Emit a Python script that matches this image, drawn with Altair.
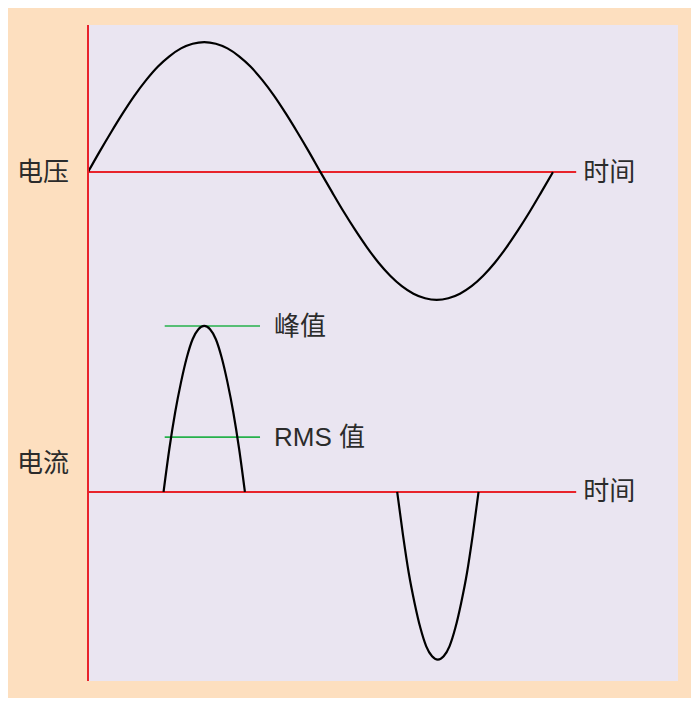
import altair as alt
import pandas as pd

# ---------------- data ----------------
# time in ms (one 50 Hz mains period = 20 ms)
V_TIME = [0.0, 0.5, 1.0, 1.5, 2.0, 2.5, 3.0, 3.5, 4.0, 4.5, 5.0, 5.5, 6.0, 6.5, 7.0,
          7.5, 8.0, 8.5, 9.0, 9.5, 10.0, 10.5, 11.0, 11.5, 12.0, 12.5, 13.0, 13.5,
          14.0, 14.5, 15.0, 15.5, 16.0, 16.5, 17.0, 17.5, 18.0, 18.5, 19.0, 19.5, 20.0]
# mains voltage in V
V_VOLT = [0, 49, 96, 141, 183, 220, 252, 277, 296, 307, 311, 307, 296, 277, 252,
          220, 183, 141, 96, 49, 0, -48, -95, -139, -180, -217, -248, -273,
          -291, -302, -306, -302, -291, -273, -248, -217, -180, -139, -95, -48, 0]

# current pulses (relative to peak current)
I_TIME_POS = [3.25, 3.5, 3.75, 4.0, 4.25, 4.5, 4.75, 5.0, 5.25, 5.5, 5.75, 6.0, 6.25, 6.5, 6.75]
I_VAL_POS = [0, 0.26, 0.48, 0.66, 0.81, 0.92, 0.98, 1.0, 0.98, 0.92, 0.81, 0.66, 0.48, 0.26, 0]
I_TIME_NEG = [13.3, 13.55, 13.8, 14.05, 14.3, 14.55, 14.8, 15.05, 15.3, 15.55, 15.8, 16.05, 16.3, 16.55, 16.8]
I_VAL_NEG = [0, -0.26, -0.49, -0.67, -0.82, -0.93, -0.99, -1.01, -0.99, -0.93, -0.82, -0.67, -0.49, -0.26, 0]

PEAK_I = 1.0
RMS_I = 0.33
MARK_START, MARK_END = 3.3, 7.4     # extent of the green marker lines (ms)
T_AXIS_END = 21.0                   # end of the red time axes (ms)

LABEL_V = "电压"
LABEL_I = "电流"
LABEL_T = "时间"
LABEL_PEAK = "峰值"
LABEL_RMS = "RMS 值"

# ---------------- styling ----------------
PEACH = "#FDDFBF"
LAVENDER = "#EAE5F1"
RED = "#E8232B"
GREEN = "#26B04B"
TXT = "#2B2B2B"
FONT = "'Liberation Sans', 'Noto Sans CJK SC', sans-serif"
FS = 26

XS = alt.Scale(domain=[0, 25.38], nice=False, zero=False)
VS = alt.Scale(domain=[-1218, 352], nice=False, zero=False)
IS = alt.Scale(domain=[-1.139, 2.813], nice=False, zero=False)

volt_df = pd.DataFrame({"t": V_TIME, "v": V_VOLT})
cur_df = pd.concat([
    pd.DataFrame({"t": I_TIME_POS, "i": I_VAL_POS, "p": "pos"}),
    pd.DataFrame({"t": I_TIME_NEG, "i": I_VAL_NEG, "p": "neg"}),
])
axis_df = pd.DataFrame({"t0": [0.0], "t1": [T_AXIS_END], "y": [0.0]})
mark_df = pd.DataFrame({"t0": [MARK_START, MARK_START], "t1": [MARK_END, MARK_END],
                        "i": [PEAK_I, RMS_I], "label": [LABEL_PEAK, LABEL_RMS]})

def X(field):
    return alt.X(field, type="quantitative", scale=XS, axis=None)

# vertical red axis
vaxis = alt.Chart(axis_df).mark_rule(color=RED, strokeWidth=2).encode(
    x=X("t0"))

# voltage axis + curve
v_axis = alt.Chart(axis_df).mark_rule(color=RED, strokeWidth=2).encode(
    x=X("t0"), x2="t1", y=alt.Y("y:Q", scale=VS, axis=None))
v_line = alt.Chart(volt_df).mark_line(color="black", strokeWidth=2.2, interpolate="monotone").encode(
    x=X("t"), y=alt.Y("v:Q", scale=VS, axis=None))
v_lab = alt.Chart(axis_df).mark_text(text=LABEL_V, font=FONT, fontSize=FS, color=TXT,
                                     align="right", baseline="middle", dx=-19, dy=1).encode(
    x=X("t0"), y=alt.Y("y:Q", scale=VS, axis=None))
v_tlab = alt.Chart(axis_df).mark_text(text=LABEL_T, font=FONT, fontSize=FS, color=TXT,
                                      align="left", baseline="middle", dx=7, dy=1).encode(
    x=X("t1"), y=alt.Y("y:Q", scale=VS, axis=None))

# current axis + pulses
i_axis = alt.Chart(axis_df).mark_rule(color=RED, strokeWidth=2).encode(
    x=X("t0"), x2="t1", y=alt.Y("y:Q", scale=IS, axis=None))
i_line = alt.Chart(cur_df).mark_line(color="black", strokeWidth=2.2, interpolate="monotone").encode(
    x=X("t"), y=alt.Y("i:Q", scale=IS, axis=None), detail="p:N")
i_lab = alt.Chart(axis_df).mark_text(text=LABEL_I, font=FONT, fontSize=FS, color=TXT,
                                     align="right", baseline="middle", dx=-19, dy=-28).encode(
    x=X("t0"), y=alt.Y("y:Q", scale=IS, axis=None))
i_tlab = alt.Chart(axis_df).mark_text(text=LABEL_T, font=FONT, fontSize=FS, color=TXT,
                                      align="left", baseline="middle", dx=7, dy=0).encode(
    x=X("t1"), y=alt.Y("y:Q", scale=IS, axis=None))
marks = alt.Chart(mark_df).mark_rule(color=GREEN, strokeWidth=1.6).encode(
    x=X("t0"), x2="t1", y=alt.Y("i:Q", scale=IS, axis=None))
mark_lab = alt.Chart(mark_df).mark_text(font=FONT, fontSize=FS, color=TXT,
                                        align="left", baseline="middle", dx=14, dy=1).encode(
    x=X("t1"), y=alt.Y("i:Q", scale=IS, axis=None), text="label:N")

chart = alt.layer(
    v_axis, i_axis, marks, v_line, i_line, vaxis, v_lab, v_tlab, i_lab, i_tlab, mark_lab
).resolve_scale(y="independent").properties(
    width=590, height=656,
    autosize=alt.AutoSizeParams(type="none"),
    padding={"left": 80, "top": 17, "right": 13, "bottom": 17},
    background=PEACH,
).configure_view(fill=LAVENDER, stroke=None)

chart.save("out.html", embed_options={"renderer": "svg", "actions": False})
